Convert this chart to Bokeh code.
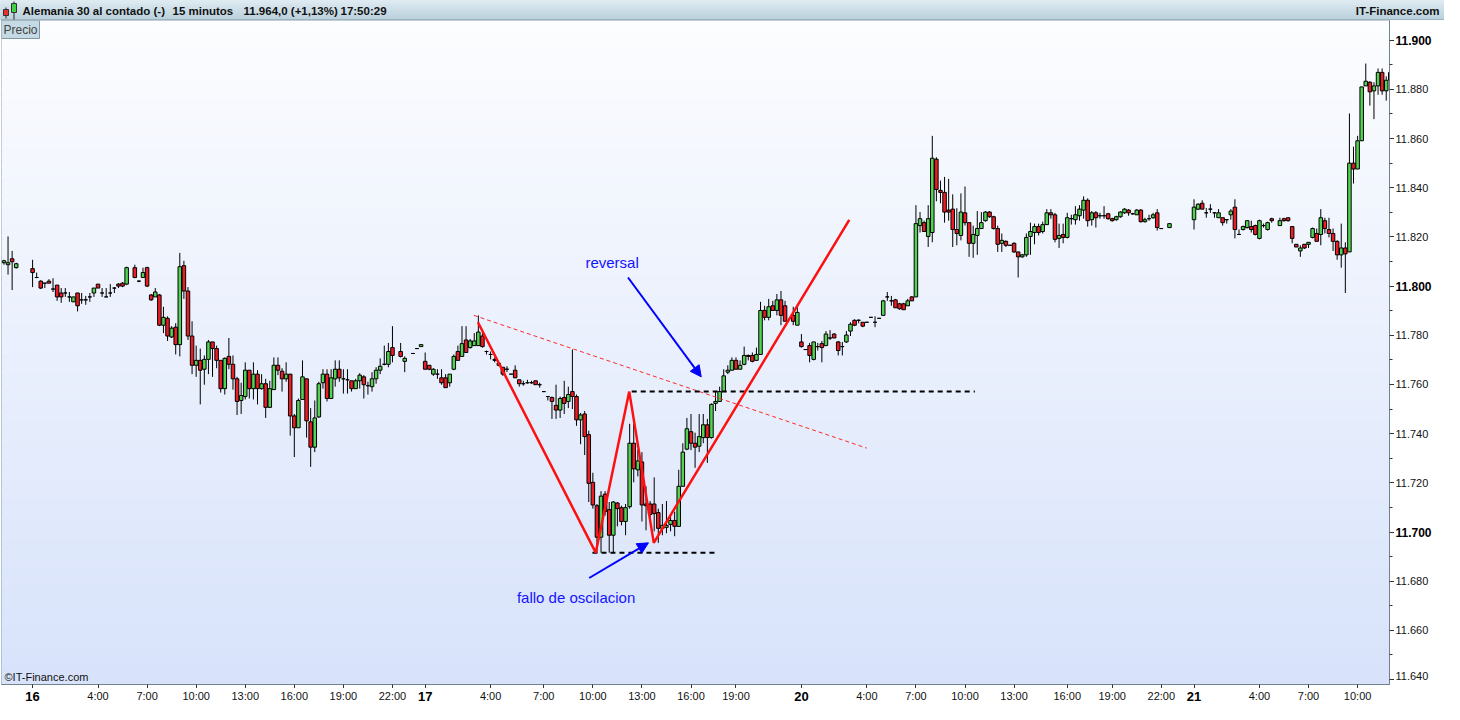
import numpy as np
from bokeh.plotting import figure
from bokeh.models import ColumnDataSource, FixedTicker, Label, Arrow, NormalHead, Range1d
from bokeh.layouts import column, gridplot
from bokeh.embed import file_html
from bokeh.resources import INLINE
from bokeh.core.properties import value

# ---------------- data (15-minute bars, slot 0 = day 16 00:00) ----------------
slot = [-7, -6, -5, -4,
        0, 1, 2, 3, 4, 5, 6, 7, 8, 9, 10, 11, 12, 13, 14, 15, 16, 17, 18, 19, 20, 21, 22, 23,
        25, 26, 27, 28, 29, 30, 31, 32, 33, 34, 35, 36, 37, 38, 39, 40, 41, 42, 43, 44, 45, 46, 47, 48, 49,
        50, 51, 52, 53, 54, 55, 56, 57, 58, 59, 60, 61, 62, 63, 64, 65, 66, 67, 68, 69, 70, 71, 72, 73, 74,
        75, 76, 77, 78, 79, 80, 81, 82, 83, 84, 85, 86, 87, 88,
        90, 91,
        93, 94, 95, 96, 97, 98, 99, 100, 101, 102, 103, 104, 105, 106, 107, 108, 109, 110, 111, 112, 113, 114,
        115, 116, 117, 118, 119, 120, 121, 122, 123, 124, 125, 126, 127, 128, 129, 130, 131, 132, 133, 134,
        135, 136, 137, 138, 139, 140, 141, 142, 143, 144, 145, 146, 147, 148, 149, 150, 151, 152, 153, 154,
        155, 156, 157, 158, 159, 160, 161, 162, 163, 164, 165, 166, 167, 168, 169, 170, 171, 172, 173, 174,
        175, 176, 177, 178, 179, 180, 181, 182, 183, 184,
        186, 187, 188, 189, 190, 191, 192, 193, 194, 195, 196, 197, 198, 199, 200, 201, 202, 203, 204, 205,
        206, 207, 208, 209, 210, 211, 212, 213, 214, 215, 216, 217, 218, 219, 220, 221, 222, 223, 224, 225,
        226, 227, 228, 229, 230, 231, 232, 233, 234, 235, 236, 237, 238, 239, 240, 241, 242, 243, 244, 245,
        246, 247, 248, 249, 250, 251, 252, 253, 254, 255, 256, 257, 258, 259, 260, 261, 262, 263, 264, 265,
        266, 267, 268, 269, 270, 271, 272, 273, 274, 275, 276,
        278,
        284, 285, 286, 287, 288, 289, 290, 291, 292, 293, 294, 295, 296, 297, 298, 299, 300, 301, 302, 303,
        305, 306, 307, 308, 309, 310, 311, 312, 313, 314, 315, 316, 317, 318, 319, 320, 321, 322, 323, 324,
        325, 326, 327, 328, 329, 330, 331, 332]

open_ = [11809.5, 11808.7, 11811.1, 11807.5,
         11807.1, 11803.5, 11802.0, 11801.2, 11802.0, 11798.8, 11800.4, 11797.2, 11797.2, 11795.6, 11793.6, 11797.2,
         11794.4, 11794.4, 11795.6, 11797.2, 11800.8, 11797.2, 11795.6, 11797.2, 11799.2, 11800.8, 11801.2, 11800.8,
         11807.5, 11802.0, 11803.5, 11807.5, 11796.4, 11795.6, 11796.4, 11784.1, 11786.9, 11779.3, 11783.3, 11776.2,
         11808.3, 11798.0, 11779.7, 11767.8, 11769.8, 11766.2, 11770.2, 11777.3, 11774.6, 11769.8, 11758.3, 11771.4,
         11768.2, 11762.3, 11753.5, 11755.1, 11765.8, 11758.3, 11764.2, 11758.3, 11760.3, 11750.7, 11757.9, 11767.8,
         11765.4, 11762.3, 11764.2, 11747.2, 11742.4, 11753.9, 11762.3, 11744.8, 11734.5, 11746.8, 11760.7, 11764.2,
         11754.3, 11762.3, 11766.2, 11762.3, 11761.9, 11761.5, 11758.3, 11761.5, 11763.1, 11759.5, 11759.1, 11762.3,
         11765.8, 11768.2, 11768.2, 11775.0,
         11773.4, 11769.4,
         11772.6, 11774.6, 11775.4, 11769.4, 11767.8, 11764.2, 11764.2, 11762.7, 11762.7, 11760.7, 11766.2, 11773.4,
         11771.4, 11778.1, 11775.0, 11775.8, 11775.8, 11779.7, 11773.4, 11772.2, 11770.2, 11767.8, 11767.0, 11766.2,
         11764.2, 11765.8, 11761.9, 11760.3, 11760.7, 11760.7, 11761.5, 11759.9, 11757.1, 11755.1, 11754.7, 11751.5,
         11749.6, 11754.7, 11753.1, 11757.1, 11755.1, 11745.6, 11748.0, 11739.6, 11720.2, 11710.7, 11697.9, 11715.4,
         11709.1, 11698.7, 11711.8, 11709.9, 11704.3, 11710.3, 11736.1, 11725.3, 11728.5, 11711.4, 11711.4, 11711.4,
         11707.9, 11701.5, 11701.9, 11703.1, 11704.7, 11702.3, 11718.6, 11733.7, 11740.8, 11736.1, 11734.9, 11738.4,
         11743.6, 11738.4, 11752.3, 11753.1, 11757.1, 11765.0, 11765.8, 11769.8, 11766.2, 11768.2, 11771.8, 11771.8,
         11769.8, 11772.2, 11790.1, 11787.3, 11792.0, 11790.1, 11794.4, 11792.0,
         11788.1, 11784.1, 11777.3, 11774.2, 11775.8, 11770.2, 11775.4, 11776.6, 11775.8, 11778.9, 11780.5, 11777.3,
         11775.4, 11777.3, 11781.7, 11786.1, 11786.1, 11785.3, 11785.3, 11787.3, 11785.3, 11786.9, 11788.1, 11795.6,
         11794.0, 11794.4, 11792.8, 11792.8, 11792.0, 11795.6, 11795.6, 11824.6, 11825.8, 11820.2, 11821.8, 11851.6,
         11838.9, 11838.1, 11830.9, 11831.3, 11823.0, 11820.6, 11829.8, 11825.8, 11817.4, 11820.6, 11823.4, 11826.6,
         11830.1, 11828.2, 11823.4, 11817.4, 11818.2, 11816.6, 11817.4, 11813.9, 11811.9, 11812.7, 11820.2, 11821.8,
         11824.2, 11822.2, 11825.0, 11829.8, 11829.0, 11819.4, 11821.0, 11819.8, 11827.4, 11827.0, 11828.6, 11830.9,
         11834.9, 11827.0, 11829.8, 11828.6, 11828.6, 11829.4, 11827.4, 11827.0, 11828.2, 11829.8, 11830.9, 11829.4,
         11829.0, 11830.9, 11826.2, 11827.4, 11827.8, 11829.8, 11823.4,
         11823.8,
         11827.0, 11831.3, 11833.7, 11829.8, 11831.3, 11829.8, 11827.8, 11827.8, 11827.0, 11829.0, 11832.1, 11821.0,
         11823.0, 11823.8, 11824.2, 11824.6, 11819.4, 11824.6, 11823.0, 11827.4,
         11824.6, 11827.4, 11827.8, 11824.2, 11817.0, 11814.3, 11817.0, 11817.0, 11819.8, 11821.4, 11821.0, 11826.6,
         11823.0, 11821.4, 11818.2, 11812.7, 11815.5, 11813.9, 11850.0, 11847.6, 11859.1, 11881.4, 11882.9, 11879.4,
         11881.4, 11886.9, 11879.4, 11883.7]

high = [11810.7, 11820.2, 11814.3, 11809.5,
        11810.7, 11805.5, 11802.4, 11801.2, 11802.8, 11803.2, 11800.4, 11799.2, 11799.2, 11797.6, 11795.6, 11797.2,
        11797.2, 11796.0, 11797.2, 11799.2, 11800.8, 11799.2, 11799.2, 11800.8, 11799.6, 11801.2, 11801.6, 11807.9,
        11808.7, 11802.4, 11807.5, 11807.9, 11796.8, 11799.2, 11796.8, 11791.6, 11787.7, 11783.7, 11784.9, 11813.5,
        11810.3, 11799.6, 11785.7, 11775.8, 11774.6, 11771.8, 11778.1, 11777.3, 11775.8, 11769.8, 11771.0, 11778.9,
        11771.8, 11763.1, 11760.7, 11769.0, 11765.8, 11769.0, 11765.8, 11764.2, 11762.3, 11761.5, 11771.0, 11771.0,
        11766.6, 11769.0, 11764.2, 11748.0, 11754.3, 11769.8, 11762.3, 11750.4, 11753.5, 11761.1, 11766.2, 11766.2,
        11766.2, 11769.8, 11769.8, 11766.2, 11766.2, 11761.5, 11762.3, 11764.6, 11763.8, 11761.1, 11765.0, 11767.0,
        11770.6, 11775.8, 11776.9, 11783.7,
        11776.9, 11771.4,
        11772.6, 11774.6, 11776.2, 11773.0, 11767.8, 11766.6, 11766.2, 11766.2, 11764.2, 11764.2, 11772.2, 11775.8,
        11783.7, 11783.7, 11778.5, 11780.9, 11788.1, 11780.9, 11773.8, 11773.4, 11771.0, 11769.0, 11767.0, 11767.4,
        11764.2, 11767.8, 11761.9, 11761.5, 11761.9, 11761.5, 11761.5, 11760.7, 11757.1, 11755.1, 11755.1, 11759.9,
        11755.1, 11761.5, 11759.1, 11774.2, 11755.9, 11748.4, 11749.2, 11741.2, 11724.1, 11711.4, 11716.6, 11716.6,
        11712.2, 11712.6, 11712.2, 11710.7, 11711.4, 11744.0, 11744.0, 11733.3, 11732.5, 11718.6, 11712.6, 11722.2,
        11709.5, 11711.4, 11712.6, 11706.3, 11708.3, 11725.3, 11736.1, 11746.4, 11748.0, 11740.4, 11748.0, 11748.0,
        11746.0, 11752.3, 11757.1, 11759.1, 11766.2, 11767.8, 11771.0, 11771.0, 11769.8, 11775.4, 11772.2, 11773.0,
        11775.0, 11793.6, 11792.0, 11794.8, 11794.0, 11796.8, 11798.0, 11794.0,
        11791.6, 11791.6, 11780.5, 11774.2, 11776.9, 11777.3, 11776.9, 11777.7, 11781.7, 11782.1, 11780.9, 11777.7,
        11777.3, 11781.7, 11785.3, 11786.5, 11786.5, 11785.3, 11785.3, 11787.3, 11787.7, 11786.9, 11794.4, 11797.6,
        11796.0, 11794.8, 11793.2, 11793.2, 11794.8, 11796.0, 11832.9, 11830.1, 11826.6, 11832.9, 11861.1, 11852.4,
        11842.9, 11844.4, 11843.6, 11837.3, 11831.7, 11837.7, 11840.5, 11825.8, 11824.6, 11830.5, 11830.1, 11830.5,
        11830.5, 11828.6, 11824.6, 11821.4, 11818.6, 11816.6, 11817.8, 11813.9, 11813.1, 11821.4, 11825.8, 11825.4,
        11825.4, 11826.2, 11831.3, 11831.3, 11829.8, 11825.4, 11825.4, 11829.8, 11829.0, 11832.5, 11832.9, 11836.5,
        11835.7, 11830.5, 11830.5, 11829.8, 11832.5, 11829.8, 11827.8, 11828.6, 11830.5, 11831.7, 11831.3, 11829.8,
        11831.3, 11831.3, 11827.8, 11829.0, 11829.8, 11831.3, 11823.4,
        11825.4,
        11835.3, 11833.7, 11834.9, 11831.7, 11833.3, 11829.8, 11831.3, 11827.8, 11827.0, 11831.3, 11835.3, 11823.0,
        11824.6, 11826.6, 11826.6, 11825.0, 11827.0, 11825.4, 11826.2, 11827.8,
        11827.8, 11827.8, 11827.8, 11824.2, 11817.0, 11816.6, 11817.0, 11817.8, 11823.8, 11823.4, 11831.3, 11827.8,
        11827.8, 11823.4, 11818.6, 11825.4, 11817.8, 11870.2, 11856.7, 11861.1, 11881.0, 11890.5, 11883.3, 11882.9,
        11888.5, 11888.5, 11885.3, 11892.5]

low = [11808.7, 11804.7, 11798.4, 11807.1,
       11799.6, 11803.2, 11798.8, 11799.2, 11801.2, 11797.6, 11794.0, 11793.2, 11795.6, 11793.6, 11793.6, 11789.7,
       11792.8, 11792.4, 11793.6, 11795.6, 11799.2, 11795.6, 11795.6, 11795.6, 11797.2, 11799.2, 11799.6, 11800.4,
       11803.2, 11801.6, 11803.5, 11799.6, 11794.0, 11795.6, 11783.7, 11780.9, 11777.7, 11778.9, 11772.2, 11771.4,
       11794.8, 11778.1, 11764.2, 11763.1, 11751.9, 11759.9, 11764.2, 11763.1, 11766.6, 11756.7, 11755.9, 11766.2,
       11757.9, 11747.6, 11748.0, 11753.9, 11754.3, 11753.9, 11751.9, 11757.9, 11746.4, 11750.4, 11757.9, 11763.8,
       11757.1, 11761.1, 11739.2, 11730.5, 11742.4, 11753.9, 11738.4, 11726.5, 11732.5, 11746.4, 11758.3, 11753.1,
       11754.3, 11759.1, 11761.1, 11756.3, 11756.3, 11757.1, 11758.3, 11758.3, 11754.3, 11755.9, 11757.1, 11760.3,
       11764.2, 11767.8, 11767.0, 11769.0,
       11771.0, 11765.0,
       11772.6, 11774.6, 11775.4, 11766.2, 11765.8, 11763.5, 11762.3, 11759.9, 11758.7, 11759.1, 11765.8, 11769.8,
       11771.4, 11773.0, 11774.6, 11775.8, 11775.8, 11775.0, 11772.2, 11770.2, 11769.0, 11767.4, 11763.5, 11765.0,
       11764.2, 11762.7, 11759.1, 11759.5, 11760.3, 11760.3, 11759.9, 11758.7, 11757.1, 11753.5, 11746.0, 11746.0,
       11746.4, 11748.0, 11750.4, 11750.0, 11743.2, 11735.7, 11731.3, 11712.2, 11709.5, 11691.6, 11691.6, 11706.7,
       11691.6, 11691.6, 11702.3, 11702.7, 11698.7, 11709.5, 11720.2, 11722.6, 11704.3, 11700.7, 11704.7, 11700.3,
       11695.6, 11698.7, 11699.5, 11700.3, 11698.3, 11702.3, 11718.6, 11733.3, 11733.3, 11726.1, 11732.5, 11736.1,
       11728.1, 11738.0, 11749.2, 11753.1, 11757.1, 11764.2, 11765.8, 11766.2, 11766.2, 11767.8, 11769.8, 11769.0,
       11769.8, 11772.2, 11786.1, 11786.1, 11790.1, 11788.1, 11784.1, 11785.7,
       11784.1, 11784.1, 11775.0, 11774.2, 11769.0, 11769.8, 11773.8, 11769.0, 11775.8, 11778.1, 11778.9, 11771.8,
       11771.8, 11776.9, 11779.7, 11783.7, 11784.9, 11783.3, 11785.3, 11787.3, 11783.3, 11786.9, 11788.1, 11794.0,
       11792.0, 11791.2, 11790.4, 11790.4, 11792.0, 11794.0, 11795.6, 11821.8, 11822.2, 11815.9, 11817.8, 11834.5,
       11833.7, 11825.8, 11826.6, 11815.9, 11816.6, 11818.6, 11824.6, 11811.9, 11811.5, 11812.7, 11823.4, 11826.2,
       11827.8, 11823.0, 11813.9, 11813.9, 11815.9, 11816.6, 11813.5, 11803.5, 11811.5, 11811.9, 11812.7, 11817.0,
       11820.6, 11821.4, 11825.0, 11827.4, 11817.8, 11815.5, 11817.4, 11819.4, 11825.0, 11825.0, 11826.6, 11827.4,
       11824.2, 11824.6, 11823.8, 11827.4, 11827.4, 11827.0, 11826.2, 11826.6, 11827.8, 11829.4, 11828.6, 11829.0,
       11829.0, 11825.8, 11825.8, 11826.6, 11827.4, 11822.6, 11823.4,
       11823.8,
       11823.0, 11830.9, 11831.3, 11827.8, 11829.8, 11827.8, 11827.8, 11824.6, 11825.4, 11827.0, 11819.4, 11821.0,
       11822.6, 11823.4, 11821.8, 11820.6, 11819.0, 11823.8, 11822.6, 11825.8,
       11824.6, 11826.2, 11826.2, 11817.4, 11815.9, 11811.9, 11815.1, 11815.5, 11819.4, 11818.2, 11816.6, 11821.4,
       11819.8, 11814.3, 11810.7, 11807.5, 11797.2, 11813.9, 11841.7, 11847.6, 11859.1, 11881.4, 11873.4, 11867.9,
       11877.8, 11877.8, 11875.4, 11883.7]

close = [11810.3, 11809.5, 11809.9, 11809.1,
         11805.5, 11803.5, 11799.2, 11801.2, 11801.2, 11798.8, 11795.6, 11795.6, 11797.2, 11795.6, 11795.6, 11792.0,
         11794.4, 11794.4, 11795.6, 11799.2, 11799.2, 11797.2, 11795.6, 11797.2, 11799.2, 11800.0, 11800.0, 11807.5,
         11803.5, 11802.0, 11805.5, 11800.0, 11794.4, 11797.6, 11784.1, 11787.3, 11779.7, 11782.9, 11776.2, 11807.9,
         11798.0, 11779.7, 11767.8, 11769.8, 11765.8, 11770.2, 11777.3, 11774.6, 11769.8, 11758.3, 11770.6, 11768.2,
         11762.3, 11753.1, 11755.5, 11765.8, 11758.3, 11764.2, 11758.3, 11760.3, 11750.7, 11758.3, 11767.8, 11765.8,
         11762.3, 11764.2, 11747.2, 11742.4, 11753.5, 11763.1, 11745.2, 11734.5, 11746.4, 11760.3, 11764.2, 11754.3,
         11762.7, 11766.2, 11762.7, 11762.3, 11761.9, 11758.3, 11761.5, 11763.8, 11759.9, 11759.5, 11762.3, 11765.8,
         11767.4, 11768.2, 11773.4, 11771.8,
         11771.4, 11770.6,
         11772.6, 11774.6, 11776.2, 11766.2, 11766.2, 11766.2, 11764.2, 11760.7, 11758.7, 11764.2, 11771.4, 11769.8,
         11776.6, 11773.0, 11777.7, 11777.7, 11781.3, 11775.4, 11773.4, 11772.2, 11769.8, 11768.6, 11764.2, 11766.2,
         11764.2, 11762.7, 11760.3, 11760.3, 11760.7, 11760.7, 11759.9, 11759.9, 11757.1, 11755.1, 11753.1, 11749.6,
         11754.3, 11752.3, 11755.9, 11755.1, 11745.6, 11747.6, 11738.8, 11719.8, 11711.0, 11697.9, 11714.6, 11708.3,
         11698.7, 11712.2, 11709.5, 11704.3, 11709.9, 11736.1, 11725.7, 11728.9, 11711.0, 11710.7, 11707.1, 11707.5,
         11701.5, 11702.7, 11702.7, 11704.7, 11702.3, 11718.6, 11732.5, 11742.0, 11736.1, 11734.5, 11738.8, 11743.6,
         11738.4, 11751.9, 11753.1, 11757.1, 11763.5, 11765.8, 11769.8, 11766.2, 11767.8, 11771.8, 11771.4, 11769.4,
         11772.2, 11790.1, 11787.3, 11791.6, 11790.1, 11794.4, 11788.1, 11785.7,
         11785.7, 11789.3, 11775.4, 11774.2, 11771.8, 11777.3, 11775.4, 11775.0, 11780.5, 11778.9, 11778.9, 11773.8,
         11775.4, 11780.1, 11784.5, 11784.1, 11786.1, 11783.7, 11785.3, 11787.3, 11785.3, 11786.9, 11794.0, 11795.6,
         11794.0, 11791.2, 11790.8, 11790.4, 11794.0, 11794.0, 11825.4, 11827.4, 11822.2, 11827.4, 11852.0, 11839.3,
         11838.1, 11830.1, 11830.1, 11823.0, 11821.4, 11830.1, 11825.8, 11817.4, 11821.0, 11823.4, 11825.8, 11830.1,
         11828.2, 11823.4, 11817.0, 11818.6, 11816.6, 11816.6, 11813.9, 11811.9, 11812.7, 11819.8, 11822.2, 11824.2,
         11821.8, 11825.0, 11829.8, 11829.0, 11819.0, 11820.6, 11819.8, 11827.8, 11827.4, 11829.0, 11831.3, 11834.9,
         11826.6, 11829.8, 11827.8, 11828.6, 11828.6, 11827.4, 11826.6, 11828.2, 11830.1, 11831.3, 11829.8, 11829.4,
         11830.9, 11826.2, 11827.0, 11827.4, 11829.0, 11823.8, 11823.4,
         11825.4,
         11832.1, 11833.3, 11831.3, 11829.8, 11831.3, 11829.8, 11829.8, 11825.8, 11827.0, 11830.5, 11823.0, 11821.0,
         11824.2, 11826.6, 11823.0, 11821.0, 11826.6, 11824.6, 11825.8, 11826.6,
         11826.6, 11826.6, 11826.6, 11819.4, 11815.9, 11815.5, 11815.5, 11817.8, 11823.4, 11818.2, 11827.8, 11823.4,
         11821.4, 11818.2, 11812.7, 11815.5, 11813.1, 11850.0, 11847.6, 11859.1, 11881.0, 11883.3, 11879.0, 11881.4,
         11886.9, 11879.4, 11883.7, 11886.9]

# x axis ticks (slot positions) and labels
x_tick_pos = [0, 16, 28, 40, 52, 64, 76, 88, 96, 112, 125, 137, 149, 161, 172,
              188, 204, 216, 228, 240, 253, 264, 276, 284, 300, 312, 324]
x_tick_lab = ["16", "4:00", "7:00", "10:00", "13:00", "16:00", "19:00", "22:00",
              "17", "4:00", "7:00", "10:00", "13:00", "16:00", "19:00",
              "20", "4:00", "7:00", "10:00", "13:00", "16:00", "19:00", "22:00",
              "21", "4:00", "7:00", "10:00"]
day_labels = ["16", "17", "20", "21"]

# y axis ticks
y_ticks = [11640, 11660, 11680, 11700, 11720, 11740, 11760, 11780, 11800,
           11820, 11840, 11860, 11880, 11900]
y_minor = [11630, 11650, 11670, 11690, 11710, 11730, 11750, 11770, 11790,
           11810, 11830, 11850, 11870, 11890, 11910]
y_bold = [11700, 11800, 11900]

# drawn pattern (slot, price)
zig_slot = [108.9, 137.7, 145.9, 151.9, 199.7]
zig_price = [11785.3, 11691.6, 11757.1, 11695.6, 11826.9]
trend_slot = [107.9, 204.0]
trend_price = [11788.1, 11734.1]
lvl_x0 = [146.5, 136.9]
lvl_x1 = [230.4, 166.9]
lvl_price = [11757.1, 11691.6]
arrow_start = [(145.6, 11803.5), (136.1, 11681.3)]
arrow_end = [(163.5, 11763.1), (150.6, 11695.6)]
note_text = ["reversal", "fallo de oscilacion"]
note_slot = [141.7, 132.9]
note_price = [11809.5, 11673.3]

# ---------------- styling ----------------
FONT = "Liberation Sans"
GREEN = "#52d452"
RED = "#ee1c24"
HEAD = "#c5dae4"
W = 1444
FW, FH = 1388, 664      # chart frame
RW = 48                 # right label panel
BH = 15                 # bottom label panel
X0, X1 = -7.6, 331.8
Y0, Y1 = 11638.0, 11908.0

def fmt(v):
    return "%d.%03d" % (v // 1000, v % 1000)

def bare(fig):
    fig.axis.visible = False
    fig.grid.visible = False
    fig.outline_line_color = None

# ---------------- header bar ----------------
h = figure(width=W, height=20, x_range=Range1d(0, W), y_range=Range1d(0, 20),
           output_backend="svg", toolbar_location=None, min_border=0)
bare(h)
h.background_fill_color = HEAD
h.border_fill_color = HEAD
hb = np.linspace(0, 20, 11)
hc = ["#%02x%02x%02x" % (int(184 + (220 - 184) * t), int(208 + (233 - 208) * t), int(220 + (240 - 220) * t))
      for t in np.linspace(0, 1, 10)]
h.quad(left=0, right=W, bottom=hb[:-1], top=hb[1:], fill_color=hc, line_color=hc)
h.line([0, W], [0.5, 0.5], line_color="#7f97a3", line_width=1)
# small candlestick icon
h.segment(x0=[5.5, 13.5], y0=[2, 1], x1=[5.5, 13.5], y1=[13, 19], line_color="#222222", line_width=1)
h.quad(left=[3, 11], right=[8, 16], bottom=[5, 8], top=[11, 17],
       fill_color=["#e83030", "#40d040"], line_color="#333333")
h.text(x=[22, 172, 243, 340], y=[10, 10, 10, 10],
       text=["Alemania 30 al contado (-)", "15 minutos", "11.964,0 (+1,13%)", "17:50:29"],
       text_font=value(FONT), text_font_size="11.5px", text_font_style="bold",
       text_baseline="middle", text_color="#111111")
h.text(x=[W - 5], y=[10], text=["IT-Finance.com"], text_font=value(FONT), text_font_size="11.5px",
       text_font_style="bold", text_baseline="middle", text_align="right", text_color="#111111")

# ---------------- main chart ----------------
p = figure(frame_width=FW, frame_height=FH, x_range=Range1d(X0, X1), y_range=Range1d(Y0, Y1),
           output_backend="svg", toolbar_location=None, y_axis_location="right",
           min_border_left=1, min_border_right=0, min_border_top=0, min_border_bottom=0)
p.grid.visible = False
p.outline_line_color = "#6f8290"
p.border_fill_color = "white"
p.background_fill_color = "#eaf0fd"

# vertical gradient background
nb = 68
edges = np.linspace(Y0, Y1, nb + 1)
tt = np.linspace(0, 1, nb)
bg = ["#%02x%02x%02x" % (int(216 + (252 - 216) * t), int(227 + (253 - 227) * t), int(251 + (255 - 251) * t))
      for t in tt]
p.quad(left=X0, right=X1, bottom=edges[:-1], top=edges[1:], fill_color=bg, line_color=bg, line_width=1)

o = np.array(open_)
c = np.array(close)
col = np.where(c > o, GREEN, np.where(c < o, RED, "black"))
src = ColumnDataSource(dict(x=slot, top=np.maximum(o, c), bottom=np.minimum(o, c),
                            high=high, low=low, color=col))
p.segment(x0="x", y0="high", x1="x", y1="low", source=src, line_color="black", line_width=1)
p.vbar(x="x", top="top", bottom="bottom", width=0.86, fill_color="color",
       line_color="black", line_width=1, source=src)

# pattern drawing
p.line(trend_slot, trend_price, line_color="#ff2a2a", line_width=1, line_dash="4 3")
p.segment(x0=lvl_x0, y0=lvl_price, x1=lvl_x1, y1=lvl_price, line_color="black",
          line_width=2, line_dash="5 4")
p.line(zig_slot, zig_price, line_color="#ff1010", line_width=2.5)
for (xs, ys), (xe, ye) in zip(arrow_start, arrow_end):
    p.add_layout(Arrow(end=NormalHead(size=11, fill_color="#0000ff", line_color="#0000ff"),
                       x_start=xs, y_start=ys, x_end=xe, y_end=ye,
                       line_color="#0000ff", line_width=2))
p.text(x=note_slot, y=note_price, text=note_text, text_color="#1414ff",
       text_font=value(FONT), text_font_size="15px", text_align="center", text_baseline="middle")

# axes: real tick marks; their labels are written in the side panels
p.yaxis.ticker = FixedTicker(ticks=y_ticks, minor_ticks=y_minor)
p.yaxis.major_label_overrides = {t: "" for t in y_ticks}
p.yaxis.major_tick_out = 5
p.yaxis.major_tick_in = 0
p.yaxis.minor_tick_out = 3
p.yaxis.minor_tick_in = 0
p.yaxis.major_label_standoff = 0
p.yaxis.axis_line_color = "#6f8290"
p.yaxis.major_tick_line_color = "#333333"
p.yaxis.minor_tick_line_color = "#333333"

p.xaxis.ticker = FixedTicker(ticks=x_tick_pos, minor_ticks=[])
p.xaxis.major_label_overrides = {t: "" for t in x_tick_pos}
p.xaxis.major_tick_out = 4
p.xaxis.major_tick_in = 0
p.xaxis.minor_tick_line_color = None
p.xaxis.major_label_standoff = 0
p.xaxis.axis_line_color = "#6f8290"
p.xaxis.major_tick_line_color = "#333333"
for ax in (p.xaxis, p.yaxis):
    ax.major_label_text_font_size = "1px"

p.add_layout(Label(x=X0, y=Y1, x_offset=0, y_offset=0, text="Precio", text_font=FONT,
                   text_font_size="12px", text_baseline="top", text_align="left",
                   background_fill_color=HEAD, border_line_color="#7f97a3", padding=2))
p.add_layout(Label(x=X0, y=Y0, x_offset=3, y_offset=2, text="\u00a9IT-Finance.com", text_font=FONT,
                   text_font_size="11px", text_baseline="bottom", text_align="left",
                   text_color="#111111"))

# ---------------- right label panel (price scale labels) ----------------
r = figure(frame_width=RW, frame_height=FH, x_range=Range1d(0, RW), y_range=p.y_range,
           output_backend="svg", toolbar_location=None, min_border=0)
bare(r)
r.background_fill_color = "white"
r.border_fill_color = "white"
norm_y = [t for t in y_ticks if t not in y_bold and t != y_ticks[0]]
r.text(x=[1] * len(norm_y), y=norm_y, text=[fmt(t) for t in norm_y], text_font=value(FONT),
       text_font_size="11px", text_baseline="middle", text_color="#111111")
r.text(x=[1], y=[y_ticks[0]], text=[fmt(y_ticks[0])], text_font=value(FONT),
       text_font_size="11px", text_baseline="bottom", text_color="#111111")
r.text(x=[1] * len(y_bold), y=y_bold, text=[fmt(t) for t in y_bold], text_font=value(FONT),
       text_font_size="12px", text_font_style="bold", text_baseline="middle", text_color="#000000")

# ---------------- bottom label panel (time labels) ----------------
b = figure(frame_width=FW, frame_height=BH, x_range=p.x_range, y_range=Range1d(0, BH),
           output_backend="svg", toolbar_location=None, min_border=0, min_border_left=1)
bare(b)
b.background_fill_color = "white"
b.border_fill_color = "white"
t_pos = [pp for pp, ll in zip(x_tick_pos, x_tick_lab) if ll not in day_labels]
t_lab = [ll for ll in x_tick_lab if ll not in day_labels]
d_pos = [pp for pp, ll in zip(x_tick_pos, x_tick_lab) if ll in day_labels]
b.text(x=t_pos, y=[BH / 2] * len(t_pos), text=t_lab, text_font=value(FONT), text_font_size="11px",
       text_align="center", text_baseline="middle", text_color="#111111")
b.text(x=d_pos, y=[BH / 2] * len(d_pos), text=day_labels, text_font=value(FONT), text_font_size="13px",
       text_font_style="bold", text_align="center", text_baseline="middle", text_color="#000000")

grid = gridplot([[p, r], [b, None]], toolbar_location=None)
layout = column(h, grid, spacing=0)
open("out.html", "w").write(file_html(layout, INLINE))
